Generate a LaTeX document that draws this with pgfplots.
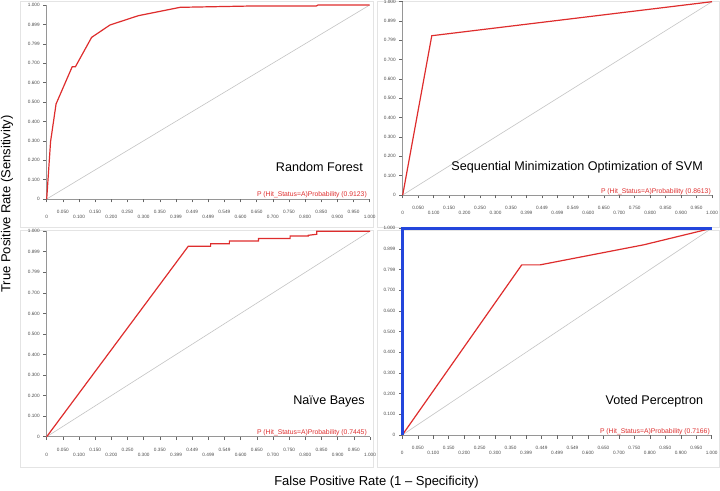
\documentclass[border=0pt]{standalone}
\usepackage{fontspec}
\setmainfont{Liberation Sans}
\usepackage{pgfplots}
\pgfplotsset{compat=1.18}

\definecolor{roc}{RGB}{222,45,45}
\definecolor{rocblue}{RGB}{35,70,220}
\definecolor{diag}{RGB}{195,195,195}
\definecolor{axgray}{RGB}{150,150,150}
\definecolor{framegray}{RGB}{228,228,228}

\pgfplotsset{
  rocpanel/.style={
    scale only axis, anchor=south west, clip=false,
    xmin=0, xmax=1, ymin=0, ymax=1,
    axis x line*=bottom, axis y line*=left,
    axis line style={-, axgray, line width=0.6pt},
    tick align=outside, major tick length=3.5pt,
    tick style={black!60, line width=0.5pt},
    tick label style={font=\fontsize{4.7}{5}\selectfont, text=black!70},
    ytick={0,0.1,0.2,0.3,0.4,0.5,0.6,0.7,0.8,0.9,1},
    yticklabels={0,0.100,0.200,0.300,0.400,0.500,0.600,0.700,0.799,0.899,1.000},
    xtick={0.05,0.15,0.25,0.35,0.45,0.55,0.65,0.75,0.85,0.95},
    xticklabels={0.050,0.150,0.250,0.350,0.449,0.549,0.650,0.750,0.850,0.950},
    extra x ticks={0,0.1,0.2,0.3,0.4,0.5,0.6,0.7,0.8,0.9,1},
    extra x tick labels={0,0.100,0.200,0.300,0.399,0.499,0.600,0.700,0.800,0.900,1.000},
    xticklabel style={yshift=-4pt},
    extra x tick style={xticklabel style={yshift=-5pt}},
  },
  diagline/.style={diag, line width=0.6pt},
  rocline/.style={roc, line width=1.2pt},
}
\tikzset{
  panel/.style={anchor=east, inner sep=0pt, font=\fontsize{12.6}{14}\selectfont},
  auc/.style={anchor=east, inner sep=0pt, text=roc, font=\fontsize{6.8}{8}\selectfont},
}

\begin{document}
\begin{tikzpicture}
\useasboundingbox (0,0) rectangle (720pt,490pt);

% panel frames
\draw[framegray, line width=0.6pt] (20pt,263pt) rectangle (373pt,489pt);
\draw[framegray, line width=0.6pt] (377pt,263pt) rectangle (719pt,489pt);
\draw[framegray, line width=0.6pt] (20pt,23pt) rectangle (373pt,260pt);
\draw[framegray, line width=0.6pt] (377pt,23pt) rectangle (719pt,260pt);

% Random Forest
\begin{axis}[rocpanel, at={(46.7pt,291pt)}, width=323pt, height=194pt]
\addplot[diagline] coordinates {(0,0) (1,1)};
\addplot[rocline] coordinates {
  (0,0) (0.012,0.296) (0.029,0.49) (0.079,0.682) (0.089,0.682)
  (0.139,0.833) (0.196,0.897) (0.284,0.945) (0.413,0.988)
  (0.64,0.995) (0.835,0.995) (0.84,1) (1,1)
};
\end{axis}

% SMO
\begin{axis}[rocpanel, at={(402.7pt,295pt)}, width=309.3pt, height=193.3pt]
\addplot[diagline] coordinates {(0,0) (1,1)};
\addplot[rocline] coordinates {(0,0) (0.094,0.824) (1,1)};
\end{axis}

% Naive Bayes
\begin{axis}[rocpanel, at={(46.7pt,53.3pt)}, width=323.3pt, height=205.5pt]
\addplot[diagline] coordinates {(0,0) (1,1)};
\addplot[rocline] coordinates {
  (0,0) (0.438,0.927) (0.507,0.927) (0.507,0.939) (0.565,0.939)
  (0.565,0.952) (0.655,0.952) (0.655,0.964) (0.753,0.964)
  (0.753,0.977) (0.809,0.977) (0.809,0.98) (0.835,0.985)
  (0.835,1) (1,1)
};
\end{axis}

% Voted Perceptron
\begin{axis}[rocpanel, at={(402.3pt,55pt)}, width=309.4pt, height=206.7pt]
\addplot[diagline] coordinates {(0,0) (1,1)};
\addplot[rocline] coordinates {(0,0) (0.386,0.823) (0.445,0.823) (0.78,0.92) (1,1)};
\addplot[rocblue, line width=2.6pt] coordinates {(0,0) (0,1) (1,1)};
\end{axis}

% panel texts
\node[panel] at (363pt,323.3pt) {Random Forest};
\node[panel] at (703pt,323pt) {Sequential Minimization Optimization of SVM};
\node[panel] at (365pt,88.3pt) {Naïve Bayes};
\node[panel] at (703.3pt,88.3pt) {Voted Perceptron};

\node[auc] at (367pt,295.7pt) {P (Hit\_Status=A)Probability (0.9123)};
\node[auc] at (711pt,298.3pt) {P (Hit\_Status=A)Probability (0.8613)};
\node[auc] at (367pt,57.7pt) {P (Hit\_Status=A)Probability (0.7445)};
\node[auc] at (710pt,58.3pt) {P (Hit\_Status=A)Probability (0.7166)};

% axis titles
\node[rotate=90, inner sep=0pt, font=\fontsize{13}{15}\selectfont] at (7pt,286pt) {True Positive Rate (Sensitivity)};
\node[inner sep=0pt, font=\fontsize{13}{15}\selectfont] at (376.5pt,8pt) {False Positive Rate (1 – Specificity)};
\end{tikzpicture}
\end{document}
